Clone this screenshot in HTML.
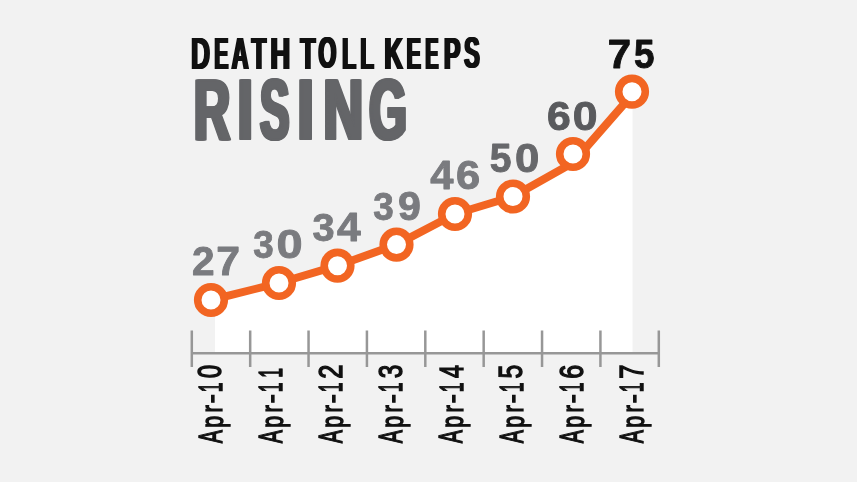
<!DOCTYPE html>
<html><head><meta charset="utf-8">
<style>
html,body{margin:0;padding:0;background:#f2f2f2;width:857px;height:482px;overflow:hidden}
svg{display:block;will-change:transform;filter:blur(0.4px)}
</style></head>
<body>
<svg width="857" height="482" viewBox="0 0 857 482" font-family='"Liberation Sans",sans-serif'>
<rect x="0" y="0" width="857" height="482" fill="#f2f2f2"/>
<polygon points="215,300 279,283 337.5,265.7 396.5,244.6 455,214 513,196.5 572.5,163 632.5,91.7 632.5,353.2 215,353.2" fill="#ffffff"/>
<g stroke="#979797" stroke-width="2.5" fill="none">
<line x1="191.8" y1="353.2" x2="658.8" y2="353.2"/>
<line x1="191.80" y1="330.5" x2="191.80" y2="367"/>
<line x1="250.18" y1="330.5" x2="250.18" y2="367"/>
<line x1="308.55" y1="330.5" x2="308.55" y2="367"/>
<line x1="366.92" y1="330.5" x2="366.92" y2="367"/>
<line x1="425.30" y1="330.5" x2="425.30" y2="367"/>
<line x1="483.67" y1="330.5" x2="483.67" y2="367"/>
<line x1="542.05" y1="330.5" x2="542.05" y2="367"/>
<line x1="600.42" y1="330.5" x2="600.42" y2="367"/>
<line x1="658.80" y1="330.5" x2="658.80" y2="367"/>
</g>
<polyline points="211,300 279,283 337.5,265.7 396.5,244.6 455,214 513,196.5 572.5,163 634.5,92" fill="none" stroke="#f26522" stroke-width="8" stroke-linejoin="round"/>
<g fill="#ffffff" stroke="#f26522" stroke-width="7.6">
<circle cx="211" cy="300" r="13.3"/>
<circle cx="279" cy="283" r="13.3"/>
<circle cx="337.5" cy="265.7" r="13.3"/>
<circle cx="396.5" cy="244.6" r="13.3"/>
<circle cx="455" cy="214" r="13.3"/>
<circle cx="513" cy="196.5" r="13.3"/>
<circle cx="573" cy="154" r="13.3"/>
<circle cx="632" cy="91.7" r="13.3"/>
</g>
<g><text transform="translate(-1.10 0) matrix(0.6075 0 0 1.0100 190.98 68.60)" font-size="43.5" font-weight="bold" fill="#111111">D</text><text transform="translate(-0.37 0) matrix(0.6075 0 0 1.0100 190.98 68.60)" font-size="43.5" font-weight="bold" fill="#111111">D</text><text transform="translate(0.37 0) matrix(0.6075 0 0 1.0100 190.98 68.60)" font-size="43.5" font-weight="bold" fill="#111111">D</text><text transform="translate(1.10 0) matrix(0.6075 0 0 1.0100 190.98 68.60)" font-size="43.5" font-weight="bold" fill="#111111">D</text></g>
<g><text transform="translate(-1.10 0) matrix(0.4907 0 0 1.0100 214.23 68.60)" font-size="43.5" font-weight="bold" fill="#111111">E</text><text transform="translate(-0.37 0) matrix(0.4907 0 0 1.0100 214.23 68.60)" font-size="43.5" font-weight="bold" fill="#111111">E</text><text transform="translate(0.37 0) matrix(0.4907 0 0 1.0100 214.23 68.60)" font-size="43.5" font-weight="bold" fill="#111111">E</text><text transform="translate(1.10 0) matrix(0.4907 0 0 1.0100 214.23 68.60)" font-size="43.5" font-weight="bold" fill="#111111">E</text></g>
<g><text transform="translate(-1.10 0) matrix(0.5414 0 0 1.0100 231.62 68.60)" font-size="43.5" font-weight="bold" fill="#111111">A</text><text transform="translate(-0.37 0) matrix(0.5414 0 0 1.0100 231.62 68.60)" font-size="43.5" font-weight="bold" fill="#111111">A</text><text transform="translate(0.37 0) matrix(0.5414 0 0 1.0100 231.62 68.60)" font-size="43.5" font-weight="bold" fill="#111111">A</text><text transform="translate(1.10 0) matrix(0.5414 0 0 1.0100 231.62 68.60)" font-size="43.5" font-weight="bold" fill="#111111">A</text></g>
<g><text transform="translate(-1.10 0) matrix(0.5490 0 0 1.0100 251.63 68.60)" font-size="43.5" font-weight="bold" fill="#111111">T</text><text transform="translate(-0.37 0) matrix(0.5490 0 0 1.0100 251.63 68.60)" font-size="43.5" font-weight="bold" fill="#111111">T</text><text transform="translate(0.37 0) matrix(0.5490 0 0 1.0100 251.63 68.60)" font-size="43.5" font-weight="bold" fill="#111111">T</text><text transform="translate(1.10 0) matrix(0.5490 0 0 1.0100 251.63 68.60)" font-size="43.5" font-weight="bold" fill="#111111">T</text></g>
<g><text transform="translate(-1.10 0) matrix(0.6314 0 0 1.0100 270.31 68.60)" font-size="43.5" font-weight="bold" fill="#111111">H</text><text transform="translate(-0.37 0) matrix(0.6314 0 0 1.0100 270.31 68.60)" font-size="43.5" font-weight="bold" fill="#111111">H</text><text transform="translate(0.37 0) matrix(0.6314 0 0 1.0100 270.31 68.60)" font-size="43.5" font-weight="bold" fill="#111111">H</text><text transform="translate(1.10 0) matrix(0.6314 0 0 1.0100 270.31 68.60)" font-size="43.5" font-weight="bold" fill="#111111">H</text></g>
<g><text transform="translate(-1.10 0) matrix(0.5647 0 0 1.0100 300.42 68.60)" font-size="43.5" font-weight="bold" fill="#111111">T</text><text transform="translate(-0.37 0) matrix(0.5647 0 0 1.0100 300.42 68.60)" font-size="43.5" font-weight="bold" fill="#111111">T</text><text transform="translate(0.37 0) matrix(0.5647 0 0 1.0100 300.42 68.60)" font-size="43.5" font-weight="bold" fill="#111111">T</text><text transform="translate(1.10 0) matrix(0.5647 0 0 1.0100 300.42 68.60)" font-size="43.5" font-weight="bold" fill="#111111">T</text></g>
<g><text transform="translate(-1.10 0) matrix(0.5322 0 0 1.0179 318.37 68.49)" font-size="43.5" font-weight="bold" fill="#111111">O</text><text transform="translate(-0.37 0) matrix(0.5322 0 0 1.0179 318.37 68.49)" font-size="43.5" font-weight="bold" fill="#111111">O</text><text transform="translate(0.37 0) matrix(0.5322 0 0 1.0179 318.37 68.49)" font-size="43.5" font-weight="bold" fill="#111111">O</text><text transform="translate(1.10 0) matrix(0.5322 0 0 1.0179 318.37 68.49)" font-size="43.5" font-weight="bold" fill="#111111">O</text></g>
<g><text transform="translate(-1.10 0) matrix(0.5348 0 0 1.0100 342.00 68.60)" font-size="43.5" font-weight="bold" fill="#111111">L</text><text transform="translate(-0.37 0) matrix(0.5348 0 0 1.0100 342.00 68.60)" font-size="43.5" font-weight="bold" fill="#111111">L</text><text transform="translate(0.37 0) matrix(0.5348 0 0 1.0100 342.00 68.60)" font-size="43.5" font-weight="bold" fill="#111111">L</text><text transform="translate(1.10 0) matrix(0.5348 0 0 1.0100 342.00 68.60)" font-size="43.5" font-weight="bold" fill="#111111">L</text></g>
<g><text transform="translate(-1.10 0) matrix(0.5169 0 0 1.0100 360.25 68.60)" font-size="43.5" font-weight="bold" fill="#111111">L</text><text transform="translate(-0.37 0) matrix(0.5169 0 0 1.0100 360.25 68.60)" font-size="43.5" font-weight="bold" fill="#111111">L</text><text transform="translate(0.37 0) matrix(0.5169 0 0 1.0100 360.25 68.60)" font-size="43.5" font-weight="bold" fill="#111111">L</text><text transform="translate(1.10 0) matrix(0.5169 0 0 1.0100 360.25 68.60)" font-size="43.5" font-weight="bold" fill="#111111">L</text></g>
<g><text transform="translate(-1.10 0) matrix(0.5893 0 0 1.0100 384.33 68.60)" font-size="43.5" font-weight="bold" fill="#111111">K</text><text transform="translate(-0.37 0) matrix(0.5893 0 0 1.0100 384.33 68.60)" font-size="43.5" font-weight="bold" fill="#111111">K</text><text transform="translate(0.37 0) matrix(0.5893 0 0 1.0100 384.33 68.60)" font-size="43.5" font-weight="bold" fill="#111111">K</text><text transform="translate(1.10 0) matrix(0.5893 0 0 1.0100 384.33 68.60)" font-size="43.5" font-weight="bold" fill="#111111">K</text></g>
<g><text transform="translate(-1.10 0) matrix(0.4907 0 0 1.0100 406.63 68.60)" font-size="43.5" font-weight="bold" fill="#111111">E</text><text transform="translate(-0.37 0) matrix(0.4907 0 0 1.0100 406.63 68.60)" font-size="43.5" font-weight="bold" fill="#111111">E</text><text transform="translate(0.37 0) matrix(0.4907 0 0 1.0100 406.63 68.60)" font-size="43.5" font-weight="bold" fill="#111111">E</text><text transform="translate(1.10 0) matrix(0.4907 0 0 1.0100 406.63 68.60)" font-size="43.5" font-weight="bold" fill="#111111">E</text></g>
<g><text transform="translate(-1.10 0) matrix(0.4495 0 0 1.0100 425.35 68.60)" font-size="43.5" font-weight="bold" fill="#111111">E</text><text transform="translate(-0.37 0) matrix(0.4495 0 0 1.0100 425.35 68.60)" font-size="43.5" font-weight="bold" fill="#111111">E</text><text transform="translate(0.37 0) matrix(0.4495 0 0 1.0100 425.35 68.60)" font-size="43.5" font-weight="bold" fill="#111111">E</text><text transform="translate(1.10 0) matrix(0.4495 0 0 1.0100 425.35 68.60)" font-size="43.5" font-weight="bold" fill="#111111">E</text></g>
<g><text transform="translate(-1.10 0) matrix(0.5714 0 0 1.0100 443.89 68.60)" font-size="43.5" font-weight="bold" fill="#111111">P</text><text transform="translate(-0.37 0) matrix(0.5714 0 0 1.0100 443.89 68.60)" font-size="43.5" font-weight="bold" fill="#111111">P</text><text transform="translate(0.37 0) matrix(0.5714 0 0 1.0100 443.89 68.60)" font-size="43.5" font-weight="bold" fill="#111111">P</text><text transform="translate(1.10 0) matrix(0.5714 0 0 1.0100 443.89 68.60)" font-size="43.5" font-weight="bold" fill="#111111">P</text></g>
<g><text transform="translate(-1.10 0) matrix(0.5385 0 0 1.0179 464.03 68.49)" font-size="43.5" font-weight="bold" fill="#111111">S</text><text transform="translate(-0.37 0) matrix(0.5385 0 0 1.0179 464.03 68.49)" font-size="43.5" font-weight="bold" fill="#111111">S</text><text transform="translate(0.37 0) matrix(0.5385 0 0 1.0179 464.03 68.49)" font-size="43.5" font-weight="bold" fill="#111111">S</text><text transform="translate(1.10 0) matrix(0.5385 0 0 1.0179 464.03 68.49)" font-size="43.5" font-weight="bold" fill="#111111">S</text></g>
<g><text transform="translate(-1.50 0) matrix(0.5875 0 0 1.0083 193.91 138.79)" font-size="85" font-weight="bold" fill="#646568" stroke="#646568" stroke-width="2.0" stroke-linejoin="round">R</text><text transform="translate(-0.50 0) matrix(0.5875 0 0 1.0083 193.91 138.79)" font-size="85" font-weight="bold" fill="#646568" stroke="#646568" stroke-width="2.0" stroke-linejoin="round">R</text><text transform="translate(0.50 0) matrix(0.5875 0 0 1.0083 193.91 138.79)" font-size="85" font-weight="bold" fill="#646568" stroke="#646568" stroke-width="2.0" stroke-linejoin="round">R</text><text transform="translate(1.50 0) matrix(0.5875 0 0 1.0083 193.91 138.79)" font-size="85" font-weight="bold" fill="#646568" stroke="#646568" stroke-width="2.0" stroke-linejoin="round">R</text></g>
<g><text transform="translate(-1.50 0) matrix(0.6316 0 0 1.0083 237.80 138.79)" font-size="85" font-weight="bold" fill="#646568" stroke="#646568" stroke-width="2.0" stroke-linejoin="round">I</text><text transform="translate(-0.50 0) matrix(0.6316 0 0 1.0083 237.80 138.79)" font-size="85" font-weight="bold" fill="#646568" stroke="#646568" stroke-width="2.0" stroke-linejoin="round">I</text><text transform="translate(0.50 0) matrix(0.6316 0 0 1.0083 237.80 138.79)" font-size="85" font-weight="bold" fill="#646568" stroke="#646568" stroke-width="2.0" stroke-linejoin="round">I</text><text transform="translate(1.50 0) matrix(0.6316 0 0 1.0083 237.80 138.79)" font-size="85" font-weight="bold" fill="#646568" stroke="#646568" stroke-width="2.0" stroke-linejoin="round">I</text></g>
<g><text transform="translate(-1.50 0) matrix(0.5100 0 0 1.0081 260.24 138.74)" font-size="85" font-weight="bold" fill="#646568" stroke="#646568" stroke-width="2.0" stroke-linejoin="round">S</text><text transform="translate(-0.50 0) matrix(0.5100 0 0 1.0081 260.24 138.74)" font-size="85" font-weight="bold" fill="#646568" stroke="#646568" stroke-width="2.0" stroke-linejoin="round">S</text><text transform="translate(0.50 0) matrix(0.5100 0 0 1.0081 260.24 138.74)" font-size="85" font-weight="bold" fill="#646568" stroke="#646568" stroke-width="2.0" stroke-linejoin="round">S</text><text transform="translate(1.50 0) matrix(0.5100 0 0 1.0081 260.24 138.74)" font-size="85" font-weight="bold" fill="#646568" stroke="#646568" stroke-width="2.0" stroke-linejoin="round">S</text></g>
<g><text transform="translate(-1.50 0) matrix(0.6877 0 0 1.0083 297.53 138.79)" font-size="85" font-weight="bold" fill="#646568" stroke="#646568" stroke-width="2.0" stroke-linejoin="round">I</text><text transform="translate(-0.50 0) matrix(0.6877 0 0 1.0083 297.53 138.79)" font-size="85" font-weight="bold" fill="#646568" stroke="#646568" stroke-width="2.0" stroke-linejoin="round">I</text><text transform="translate(0.50 0) matrix(0.6877 0 0 1.0083 297.53 138.79)" font-size="85" font-weight="bold" fill="#646568" stroke="#646568" stroke-width="2.0" stroke-linejoin="round">I</text><text transform="translate(1.50 0) matrix(0.6877 0 0 1.0083 297.53 138.79)" font-size="85" font-weight="bold" fill="#646568" stroke="#646568" stroke-width="2.0" stroke-linejoin="round">I</text></g>
<g><text transform="translate(-1.50 0) matrix(0.6462 0 0 1.0083 323.53 138.79)" font-size="85" font-weight="bold" fill="#646568" stroke="#646568" stroke-width="2.0" stroke-linejoin="round">N</text><text transform="translate(-0.50 0) matrix(0.6462 0 0 1.0083 323.53 138.79)" font-size="85" font-weight="bold" fill="#646568" stroke="#646568" stroke-width="2.0" stroke-linejoin="round">N</text><text transform="translate(0.50 0) matrix(0.6462 0 0 1.0083 323.53 138.79)" font-size="85" font-weight="bold" fill="#646568" stroke="#646568" stroke-width="2.0" stroke-linejoin="round">N</text><text transform="translate(1.50 0) matrix(0.6462 0 0 1.0083 323.53 138.79)" font-size="85" font-weight="bold" fill="#646568" stroke="#646568" stroke-width="2.0" stroke-linejoin="round">N</text></g>
<g><text transform="translate(-1.50 0) matrix(0.5671 0 0 1.0081 369.18 138.74)" font-size="85" font-weight="bold" fill="#646568" stroke="#646568" stroke-width="2.0" stroke-linejoin="round">G</text><text transform="translate(-0.50 0) matrix(0.5671 0 0 1.0081 369.18 138.74)" font-size="85" font-weight="bold" fill="#646568" stroke="#646568" stroke-width="2.0" stroke-linejoin="round">G</text><text transform="translate(0.50 0) matrix(0.5671 0 0 1.0081 369.18 138.74)" font-size="85" font-weight="bold" fill="#646568" stroke="#646568" stroke-width="2.0" stroke-linejoin="round">G</text><text transform="translate(1.50 0) matrix(0.5671 0 0 1.0081 369.18 138.74)" font-size="85" font-weight="bold" fill="#646568" stroke="#646568" stroke-width="2.0" stroke-linejoin="round">G</text></g>
<g><text transform="translate(0.00 0) matrix(1.0150 0 0 0.9983 191.99 274.80)" font-size="40" font-weight="bold" fill="#7a7b7f" stroke="#7a7b7f" stroke-width="0.9" stroke-linejoin="round">2</text></g>
<g><text transform="translate(0.00 0) matrix(1.0684 0 0 1.0070 216.16 274.80)" font-size="40" font-weight="bold" fill="#7a7b7f" stroke="#7a7b7f" stroke-width="0.9" stroke-linejoin="round">7</text></g>
<g><text transform="translate(0.00 0) matrix(0.9205 0 0 0.9931 253.34 258.06)" font-size="40" font-weight="bold" fill="#7a7b7f" stroke="#7a7b7f" stroke-width="0.9" stroke-linejoin="round">3</text></g>
<g><text transform="translate(0.00 0) matrix(1.1747 0 0 1.0138 276.43 258.34)" font-size="40" font-weight="bold" fill="#7a7b7f" stroke="#7a7b7f" stroke-width="0.9" stroke-linejoin="round">0</text></g>
<g><text transform="translate(0.00 0) matrix(0.9928 0 0 0.9931 312.50 241.36)" font-size="40" font-weight="bold" fill="#7a7b7f" stroke="#7a7b7f" stroke-width="0.9" stroke-linejoin="round">3</text></g>
<g><text transform="translate(0.00 0) matrix(1.0652 0 0 1.0000 337.03 241.30)" font-size="40" font-weight="bold" fill="#7a7b7f" stroke="#7a7b7f" stroke-width="0.9" stroke-linejoin="round">4</text></g>
<g><text transform="translate(0.00 0) matrix(0.9205 0 0 0.9862 373.34 219.66)" font-size="40" font-weight="bold" fill="#7a7b7f" stroke="#7a7b7f" stroke-width="0.9" stroke-linejoin="round">3</text></g>
<g><text transform="translate(0.00 0) matrix(1.0272 0 0 1.0000 398.07 219.85)" font-size="40" font-weight="bold" fill="#7a7b7f" stroke="#7a7b7f" stroke-width="0.9" stroke-linejoin="round">9</text></g>
<g><text transform="translate(0.00 0) matrix(1.0427 0 0 0.9965 430.34 188.70)" font-size="40" font-weight="bold" fill="#7a7b7f" stroke="#7a7b7f" stroke-width="0.9" stroke-linejoin="round">4</text></g>
<g><text transform="translate(0.00 0) matrix(1.0864 0 0 1.0069 456.01 188.84)" font-size="40" font-weight="bold" fill="#7a7b7f" stroke="#7a7b7f" stroke-width="0.9" stroke-linejoin="round">6</text></g>
<g><text transform="translate(0.00 0) matrix(0.9783 0 0 0.9948 489.87 172.25)" font-size="40" font-weight="bold" fill="#67686b" stroke="#67686b" stroke-width="0.9" stroke-linejoin="round">5</text></g>
<g><text transform="translate(0.00 0) matrix(1.0937 0 0 1.0069 514.93 172.44)" font-size="40" font-weight="bold" fill="#67686b" stroke="#67686b" stroke-width="0.9" stroke-linejoin="round">0</text></g>
<g><text transform="translate(0.00 0) matrix(1.0667 0 0 0.9931 546.93 130.26)" font-size="40" font-weight="bold" fill="#595a5d" stroke="#595a5d" stroke-width="0.9" stroke-linejoin="round">6</text></g>
<g><text transform="translate(0.00 0) matrix(1.1139 0 0 1.0069 572.71 130.44)" font-size="40" font-weight="bold" fill="#595a5d" stroke="#595a5d" stroke-width="0.9" stroke-linejoin="round">0</text></g>
<g><text transform="translate(0.00 0) matrix(1.0481 0 0 0.9965 607.69 68.30)" font-size="40" font-weight="bold" fill="#111111" stroke="#111111" stroke-width="0.9" stroke-linejoin="round">7</text></g>
<g><text transform="translate(0.00 0) matrix(0.9205 0 0 0.9948 634.01 68.25)" font-size="40" font-weight="bold" fill="#111111" stroke="#111111" stroke-width="0.9" stroke-linejoin="round">5</text></g>
<text transform="matrix(0 -0.5451 0.9448 0 221.69 443.19)" font-size="36" font-weight="normal" fill="#111111" stroke="#111111" stroke-width="1.6">A</text>
<text transform="matrix(0 -0.5915 0.8956 0 222.61 427.69)" font-size="36" font-weight="normal" fill="#111111" stroke="#111111" stroke-width="1.6">p</text>
<text transform="matrix(0 -0.6140 0.8429 0 221.77 412.42)" font-size="36" font-weight="normal" fill="#111111" stroke="#111111" stroke-width="1.6">r</text>
<text transform="matrix(0 -0.7905 0.8235 0 221.28 403.59)" font-size="36" font-weight="normal" fill="#111111" stroke="#111111" stroke-width="1.6">-</text>
<text transform="matrix(0 -0.4882 0.9371 0 221.70 392.18)" font-size="36" font-weight="normal" fill="#111111" stroke="#111111" stroke-width="1.6">1</text>
<text transform="matrix(0 -0.6684 0.9111 0 221.49 378.33)" font-size="36" font-weight="normal" fill="#111111" stroke="#111111" stroke-width="1.6">0</text>
<text transform="matrix(0 -0.5451 0.9448 0 281.89 443.19)" font-size="36" font-weight="normal" fill="#111111" stroke="#111111" stroke-width="1.6">A</text>
<text transform="matrix(0 -0.5915 0.8956 0 282.81 427.69)" font-size="36" font-weight="normal" fill="#111111" stroke="#111111" stroke-width="1.6">p</text>
<text transform="matrix(0 -0.6140 0.8429 0 281.97 412.42)" font-size="36" font-weight="normal" fill="#111111" stroke="#111111" stroke-width="1.6">r</text>
<text transform="matrix(0 -0.7905 0.8235 0 281.48 403.59)" font-size="36" font-weight="normal" fill="#111111" stroke="#111111" stroke-width="1.6">-</text>
<text transform="matrix(0 -0.4882 0.9371 0 281.90 392.18)" font-size="36" font-weight="normal" fill="#111111" stroke="#111111" stroke-width="1.6">1</text>
<text transform="matrix(0 -0.4882 0.9371 0 281.90 377.78)" font-size="36" font-weight="normal" fill="#111111" stroke="#111111" stroke-width="1.6">1</text>
<text transform="matrix(0 -0.5451 0.9448 0 342.09 443.19)" font-size="36" font-weight="normal" fill="#111111" stroke="#111111" stroke-width="1.6">A</text>
<text transform="matrix(0 -0.5915 0.8956 0 343.01 427.69)" font-size="36" font-weight="normal" fill="#111111" stroke="#111111" stroke-width="1.6">p</text>
<text transform="matrix(0 -0.6140 0.8429 0 342.17 412.42)" font-size="36" font-weight="normal" fill="#111111" stroke="#111111" stroke-width="1.6">r</text>
<text transform="matrix(0 -0.7905 0.8235 0 341.68 403.59)" font-size="36" font-weight="normal" fill="#111111" stroke="#111111" stroke-width="1.6">-</text>
<text transform="matrix(0 -0.4882 0.9371 0 342.10 392.18)" font-size="36" font-weight="normal" fill="#111111" stroke="#111111" stroke-width="1.6">1</text>
<text transform="matrix(0 -0.7056 0.9196 0 342.11 378.71)" font-size="36" font-weight="normal" fill="#111111" stroke="#111111" stroke-width="1.6">2</text>
<text transform="matrix(0 -0.5451 0.9448 0 402.29 443.19)" font-size="36" font-weight="normal" fill="#111111" stroke="#111111" stroke-width="1.6">A</text>
<text transform="matrix(0 -0.5915 0.8956 0 403.21 427.69)" font-size="36" font-weight="normal" fill="#111111" stroke="#111111" stroke-width="1.6">p</text>
<text transform="matrix(0 -0.6140 0.8429 0 402.37 412.42)" font-size="36" font-weight="normal" fill="#111111" stroke="#111111" stroke-width="1.6">r</text>
<text transform="matrix(0 -0.7905 0.8235 0 401.88 403.59)" font-size="36" font-weight="normal" fill="#111111" stroke="#111111" stroke-width="1.6">-</text>
<text transform="matrix(0 -0.4882 0.9371 0 402.30 392.18)" font-size="36" font-weight="normal" fill="#111111" stroke="#111111" stroke-width="1.6">1</text>
<text transform="matrix(0 -0.6773 0.9111 0 402.09 378.34)" font-size="36" font-weight="normal" fill="#111111" stroke="#111111" stroke-width="1.6">3</text>
<text transform="matrix(0 -0.5451 0.9448 0 462.49 443.19)" font-size="36" font-weight="normal" fill="#111111" stroke="#111111" stroke-width="1.6">A</text>
<text transform="matrix(0 -0.5915 0.8956 0 463.41 427.69)" font-size="36" font-weight="normal" fill="#111111" stroke="#111111" stroke-width="1.6">p</text>
<text transform="matrix(0 -0.6140 0.8429 0 462.57 412.42)" font-size="36" font-weight="normal" fill="#111111" stroke="#111111" stroke-width="1.6">r</text>
<text transform="matrix(0 -0.7905 0.8235 0 462.08 403.59)" font-size="36" font-weight="normal" fill="#111111" stroke="#111111" stroke-width="1.6">-</text>
<text transform="matrix(0 -0.4882 0.9371 0 462.50 392.18)" font-size="36" font-weight="normal" fill="#111111" stroke="#111111" stroke-width="1.6">1</text>
<text transform="matrix(0 -0.6430 0.9371 0 462.50 378.00)" font-size="36" font-weight="normal" fill="#111111" stroke="#111111" stroke-width="1.6">4</text>
<text transform="matrix(0 -0.5451 0.9448 0 522.69 443.19)" font-size="36" font-weight="normal" fill="#111111" stroke="#111111" stroke-width="1.6">A</text>
<text transform="matrix(0 -0.5915 0.8956 0 523.61 427.69)" font-size="36" font-weight="normal" fill="#111111" stroke="#111111" stroke-width="1.6">p</text>
<text transform="matrix(0 -0.6140 0.8429 0 522.77 412.42)" font-size="36" font-weight="normal" fill="#111111" stroke="#111111" stroke-width="1.6">r</text>
<text transform="matrix(0 -0.7905 0.8235 0 522.28 403.59)" font-size="36" font-weight="normal" fill="#111111" stroke="#111111" stroke-width="1.6">-</text>
<text transform="matrix(0 -0.4882 0.9371 0 522.70 392.18)" font-size="36" font-weight="normal" fill="#111111" stroke="#111111" stroke-width="1.6">1</text>
<text transform="matrix(0 -0.6865 0.9283 0 522.47 378.51)" font-size="36" font-weight="normal" fill="#111111" stroke="#111111" stroke-width="1.6">5</text>
<text transform="matrix(0 -0.5451 0.9448 0 582.89 443.19)" font-size="36" font-weight="normal" fill="#111111" stroke="#111111" stroke-width="1.6">A</text>
<text transform="matrix(0 -0.5915 0.8956 0 583.81 427.69)" font-size="36" font-weight="normal" fill="#111111" stroke="#111111" stroke-width="1.6">p</text>
<text transform="matrix(0 -0.6140 0.8429 0 582.97 412.42)" font-size="36" font-weight="normal" fill="#111111" stroke="#111111" stroke-width="1.6">r</text>
<text transform="matrix(0 -0.7905 0.8235 0 582.48 403.59)" font-size="36" font-weight="normal" fill="#111111" stroke="#111111" stroke-width="1.6">-</text>
<text transform="matrix(0 -0.4882 0.9371 0 582.90 392.18)" font-size="36" font-weight="normal" fill="#111111" stroke="#111111" stroke-width="1.6">1</text>
<text transform="matrix(0 -0.6959 0.9111 0 582.69 378.70)" font-size="36" font-weight="normal" fill="#111111" stroke="#111111" stroke-width="1.6">6</text>
<text transform="matrix(0 -0.5451 0.9448 0 643.09 443.19)" font-size="36" font-weight="normal" fill="#111111" stroke="#111111" stroke-width="1.6">A</text>
<text transform="matrix(0 -0.5915 0.8956 0 644.01 427.69)" font-size="36" font-weight="normal" fill="#111111" stroke="#111111" stroke-width="1.6">p</text>
<text transform="matrix(0 -0.6140 0.8429 0 643.17 412.42)" font-size="36" font-weight="normal" fill="#111111" stroke="#111111" stroke-width="1.6">r</text>
<text transform="matrix(0 -0.7905 0.8235 0 642.68 403.59)" font-size="36" font-weight="normal" fill="#111111" stroke="#111111" stroke-width="1.6">-</text>
<text transform="matrix(0 -0.4882 0.9371 0 643.10 392.18)" font-size="36" font-weight="normal" fill="#111111" stroke="#111111" stroke-width="1.6">1</text>
<text transform="matrix(0 -0.7056 0.9371 0 643.10 378.71)" font-size="36" font-weight="normal" fill="#111111" stroke="#111111" stroke-width="1.6">7</text>
</svg>
</body></html>
